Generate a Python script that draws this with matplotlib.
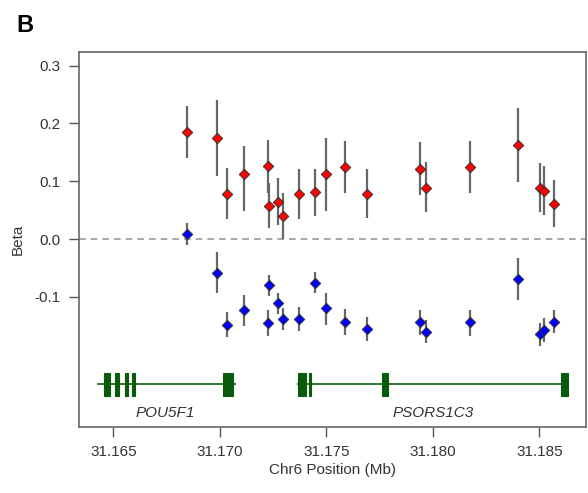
import matplotlib
matplotlib.use("Agg")
import matplotlib.pyplot as plt
from matplotlib.patches import Rectangle

plt.rcParams["font.family"] = ["Liberation Sans", "DejaVu Sans"]

# SNP positions (Mb) shared by both series
pos = [31.16846, 31.16987, 31.17032, 31.17114, 31.17225, 31.17231, 31.17275,
       31.17295, 31.17373, 31.17447, 31.17497, 31.17588, 31.17692, 31.17940,
       31.17968, 31.18175, 31.18399, 31.18503, 31.18523, 31.18570]

# red series
red_pos = pos
red_beta = [0.186, 0.174, 0.078, 0.113, 0.126, 0.057, 0.064, 0.040, 0.078, 0.081,
            0.112, 0.124, 0.078, 0.122, 0.089, 0.124, 0.162, 0.089, 0.083, 0.061]
red_lo = [0.140, 0.109, 0.034, 0.049, 0.080, 0.019, 0.025, 0.000, 0.034, 0.040,
          0.048, 0.079, 0.036, 0.077, 0.046, 0.079, 0.098, 0.046, 0.041, 0.021]
red_hi = [0.230, 0.240, 0.123, 0.161, 0.172, 0.097, 0.105, 0.080, 0.122, 0.121,
          0.175, 0.170, 0.121, 0.168, 0.133, 0.170, 0.227, 0.131, 0.126, 0.102]

# blue series
blue_pos = [31.16846, 31.16987, 31.17032, 31.17114, 31.17231, 31.17225, 31.17275,
            31.17295, 31.17373, 31.17447, 31.17497, 31.17588, 31.17692, 31.17940,
            31.17968, 31.18175, 31.18399, 31.18503, 31.18523, 31.18570]
blue_beta = [0.009, -0.058, -0.148, -0.123, -0.080, -0.145, -0.111, -0.138, -0.138, -0.076,
             -0.120, -0.143, -0.155, -0.144, -0.161, -0.144, -0.069, -0.165, -0.157, -0.143]
blue_lo = [-0.010, -0.094, -0.169, -0.150, -0.099, -0.167, -0.130, -0.157, -0.159, -0.094,
           -0.148, -0.166, -0.176, -0.166, -0.179, -0.167, -0.106, -0.185, -0.178, -0.163]
blue_hi = [0.028, -0.022, -0.126, -0.096, -0.062, -0.122, -0.093, -0.120, -0.117, -0.057,
           -0.093, -0.121, -0.134, -0.122, -0.140, -0.122, -0.032, -0.146, -0.136, -0.123]

# gene models: tx span, exons, label x
gene_names = ["POU5F1", "PSORS1C3"]
gene_tx = [(31.16430, 31.17071), (31.17369, 31.18633)]
gene_exons = [
    [(31.16456, 31.16484), (31.16508, 31.16527), (31.16554, 31.16570),
     (31.16589, 31.16602), (31.17016, 31.17061)],
    [(31.17369, 31.17403), (31.17420, 31.17428), (31.17760, 31.17791),
     (31.18600, 31.18633)],
]
gene_label_x = [31.16743, 31.18002]

xticks = [31.165, 31.170, 31.175, 31.180, 31.185]
yticks = [-0.1, 0.0, 0.1, 0.2, 0.3]

fig = plt.figure(figsize=(5.88, 4.93), dpi=100)
ax = fig.add_axes([0.1344, 0.1339, 0.8622, 0.7606])

ax.axhline(0, color="#999999", linestyle=(0, (4, 3)), linewidth=1.2, zorder=1)

for xs, ys, lo, hi, col in [(red_pos, red_beta, red_lo, red_hi, "#ff0000"),
                            (blue_pos, blue_beta, blue_lo, blue_hi, "#0000ff")]:
    ax.vlines(xs, lo, hi, color="#666666", linewidth=1.6, zorder=2)
    ax.scatter(xs, ys, marker="D", s=28, facecolor=col, edgecolor="#333333",
               linewidth=0.7, zorder=3)

# gene track
track_y = -0.2515
exon_h = 0.041
for name, (s, e), exons, lx in zip(gene_names, gene_tx, gene_exons, gene_label_x):
    ax.plot([s, e], [track_y, track_y], color="#1a6b1a", linewidth=1.3, zorder=2)
    for es, ee in exons:
        ax.add_patch(Rectangle((es, track_y - exon_h / 2), ee - es, exon_h,
                               facecolor="#0b5a0b", edgecolor="#0b5a0b",
                               linewidth=0.8, zorder=3))
    ax.text(lx, -0.3015, name, ha="center", va="center", fontsize=11,
            style="italic", color="#333333")

ax.set_xlim(31.16339, 31.18719)
ax.set_ylim(-0.325, 0.3235)
ax.set_xticks(xticks)
ax.set_xticklabels(["%.3f" % v for v in xticks])
ax.set_yticks(yticks)
ax.set_yticklabels(["%.1f" % v for v in yticks])
ax.tick_params(direction="out", length=7, width=1, color="#555555",
               labelsize=11, labelcolor="#333333", pad=6)
for sp in ax.spines.values():
    sp.set_color("#666666")
    sp.set_linewidth(1.2)

ax.set_xlabel("Chr6 Position (Mb)", fontsize=11, color="#333333", labelpad=3)
ax.set_ylabel("Beta", fontsize=11, color="#333333", labelpad=7)

fig.text(0.027, 0.972, "B", fontsize=17, fontweight="bold", ha="left", va="top")

fig.savefig("out.png", dpi=100)
